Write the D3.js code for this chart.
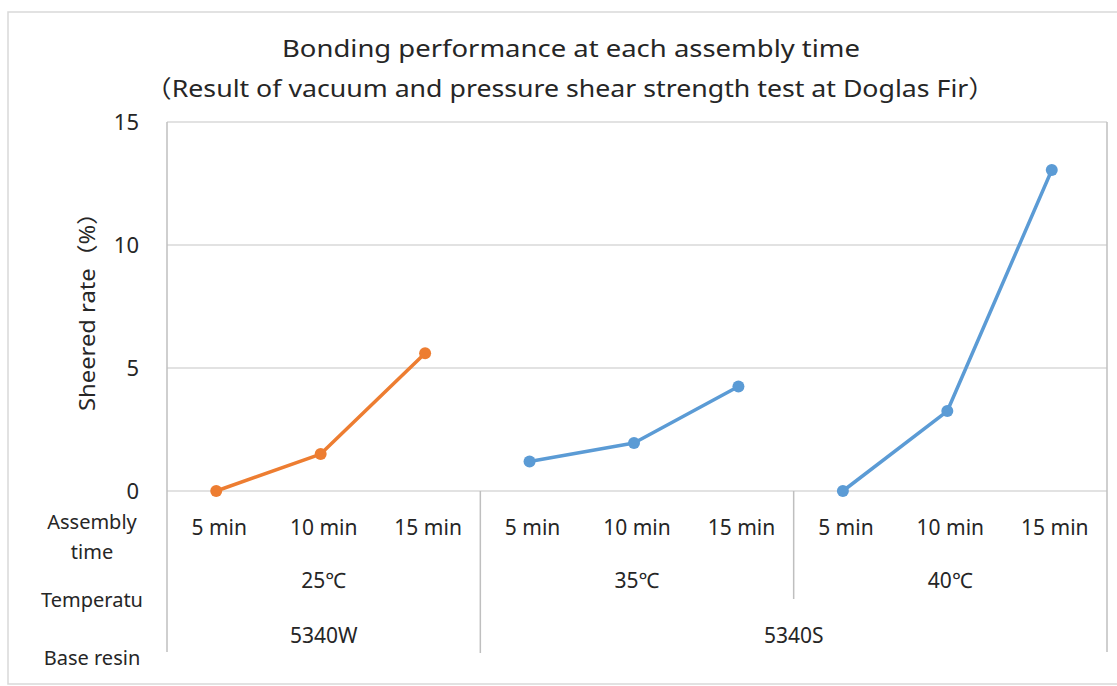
<!DOCTYPE html>
<html><head><meta charset="utf-8">
<script src="https://cdn.jsdelivr.net/npm/d3@7"></script>
<style>
html,body{margin:0;padding:0;background:#fff;}
text{font-family:"Noto Sans","Noto Sans CJK JP",sans-serif;fill:#262626;}
</style></head>
<body><svg id="c" width="1117" height="686"></svg>
<script>
// ---- data ----
const timeLabels = ["5 min","10 min","15 min"];
const tempLabels = ["25℃","35℃","40℃"];
const resinLabels = ["5340W","5340S"];
const resinSpan = [1,2];           // number of temperature groups per resin
const orange25 = [0, 1.5, 5.6];    // 5340W, 25℃
const blue35 = [1.2, 1.95, 4.25];  // 5340S, 35℃
const blue40 = [0, 3.25, 13.05];   // 5340S, 40℃
const yTicks = [0,5,10,15];
const rowLabels = [["Assembly","time"],["Temperatu"],["Base resin"]];

// ---- layout ----
const svg = d3.select("#c");
const L = 167, R = 1107, T = 122, B = 491;
const keys = d3.range(9);
const x = d3.scaleBand().domain(keys).range([L,R]);
const y = d3.scaleLinear().domain([0,15]).range([B,T]);
const grid = "#d9d9d9", axisC = "#bfbfbf";

// outer frame
svg.append("rect").attr("x",8).attr("y",12).attr("width",1120).attr("height",672)
  .attr("fill","none").attr("stroke","#d9d9d9").attr("stroke-width",1.5);

// titles
svg.append("text").attr("x",571).attr("y",57).attr("text-anchor","middle")
  .attr("font-size",24).attr("textLength",578).attr("lengthAdjust","spacingAndGlyphs")
  .text("Bonding performance at each assembly time");
svg.append("text").attr("x",570).attr("y",97).attr("text-anchor","middle")
  .attr("font-size",24).attr("textLength",850).attr("lengthAdjust","spacingAndGlyphs")
  .text("（Result of vacuum and pressure shear strength test at Doglas Fir）");

// gridlines
svg.append("g").selectAll("line").data(yTicks).join("line")
  .attr("x1",L).attr("x2",R).attr("y1",d=>y(d)).attr("y2",d=>y(d))
  .attr("stroke",grid).attr("stroke-width",1.5);

// y axis ticks
const yAxis = d3.axisLeft(y).tickValues(yTicks).tickSize(0).tickPadding(28);
const ya = svg.append("g").attr("transform",`translate(${L},0)`).call(yAxis);
ya.select(".domain").remove();
ya.selectAll("text").attr("font-size",22).attr("font-family","Noto Sans").attr("fill","#262626").attr("dy","0.36em");

// y title
svg.append("text").attr("transform","translate(95,306) rotate(-90)").attr("text-anchor","middle")
  .attr("font-size",21).attr("textLength",210).attr("lengthAdjust","spacingAndGlyphs")
  .text("Sheered rate（%）");

// category structure lines
const groupEdge = i => x(i*3);
svg.append("line").attr("x1",L).attr("x2",L).attr("y1",T).attr("y2",652).attr("stroke",axisC).attr("stroke-width",1.5);
svg.append("line").attr("x1",R).attr("x2",R).attr("y1",T).attr("y2",652).attr("stroke",axisC).attr("stroke-width",1.5);
// divider between resins (full height)
svg.append("line").attr("x1",groupEdge(1)).attr("x2",groupEdge(1)).attr("y1",B).attr("y2",653).attr("stroke",axisC).attr("stroke-width",1.5);
// divider between temperatures within resin
svg.append("line").attr("x1",groupEdge(2)).attr("x2",groupEdge(2)).attr("y1",B).attr("y2",599).attr("stroke",axisC).attr("stroke-width",1.5);

// time labels
svg.append("g").selectAll("text").data(keys).join("text")
  .attr("x",d=>x(d)+x.bandwidth()/2).attr("y",535).attr("text-anchor","middle")
  .attr("font-size",21).text(d=>timeLabels[d%3]);
// temperature labels
svg.append("g").selectAll("text").data(tempLabels).join("text")
  .attr("x",(d,i)=>(x(i*3)+x(i*3+2)+x.bandwidth())/2).attr("y",588).attr("text-anchor","middle")
  .attr("font-size",21).text(d=>d);
// resin labels
let startG = 0;
resinLabels.forEach((r,i)=>{
  const a = x(startG*3), b = x((startG+resinSpan[i])*3-1)+x.bandwidth();
  svg.append("text").attr("x",(a+b)/2).attr("y",643).attr("text-anchor","middle")
    .attr("font-size",21).text(r);
  startG += resinSpan[i];
});
// row labels
const rowY = [[529,559],[607],[665]];
rowLabels.forEach((lines,i)=>lines.forEach((t,j)=>{
  svg.append("text").attr("x",92).attr("y",rowY[i][j]).attr("text-anchor","middle")
    .attr("font-size",20).text(t);
}));

// series
function drawSeries(vals, offset, color){
  const pts = vals.map((v,i)=>[x(offset+i)+x.bandwidth()/2 - 3, y(v)]);
  svg.append("path").attr("d",d3.line()(pts)).attr("fill","none")
    .attr("stroke",color).attr("stroke-width",3.5).attr("stroke-linejoin","round");
  svg.append("g").selectAll("circle").data(pts).join("circle")
    .attr("cx",d=>d[0]).attr("cy",d=>d[1]).attr("r",6).attr("fill",color);
}
drawSeries(orange25, 0, "#ED7D31");
drawSeries(blue35, 3, "#5B9BD5");
drawSeries(blue40, 6, "#5B9BD5");
</script></body></html>
